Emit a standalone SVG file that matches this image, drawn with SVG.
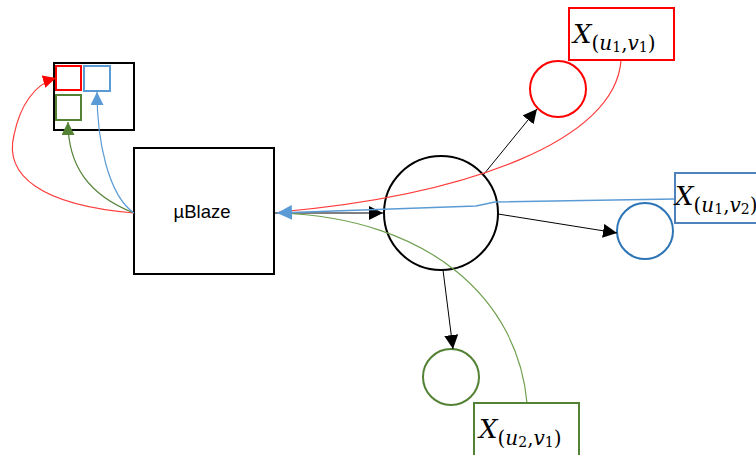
<svg xmlns="http://www.w3.org/2000/svg" width="756" height="455" viewBox="0 0 756 455">
<style>
.box{fill:#fff;stroke:#000;stroke-width:2}
.lbl{font-family:"DejaVu Serif","Liberation Serif",serif;font-size:26px;fill:#000}
.it{font-style:italic}
.sub{font-size:20px}
.dig{font-size:14px}
.blk{stroke:#000;stroke-width:1;fill:none}
</style>
<defs>
<marker id="aBlk" viewBox="0 0 10 10" refX="10" refY="5" markerWidth="14" markerHeight="14" markerUnits="userSpaceOnUse" orient="auto"><path d="M0,0L10,5L0,10z" fill="#000"/></marker>
<marker id="aRed" viewBox="0 0 10 10" refX="10" refY="5" markerWidth="13" markerHeight="13" markerUnits="userSpaceOnUse" orient="auto"><path d="M0,0L10,5L0,10z" fill="#FF0000"/></marker>
<marker id="aGrn" viewBox="0 0 10 10" refX="10" refY="5" markerWidth="13" markerHeight="13" markerUnits="userSpaceOnUse" orient="auto"><path d="M0,0L10,5L0,10z" fill="#548235"/></marker>
<marker id="aBlu" viewBox="0 0 10 10" refX="10" refY="5" markerWidth="13" markerHeight="13" markerUnits="userSpaceOnUse" orient="auto"><path d="M0,0L10,5L0,10z" fill="#5B9BD5"/></marker>
<marker id="aBlu2" viewBox="0 0 10 10" refX="10" refY="5" markerWidth="15" markerHeight="15" markerUnits="userSpaceOnUse" orient="auto"><path d="M0,0L10,5L0,10z" fill="#5B9BD5"/></marker>
</defs>
<g id="memory">
<rect x="54" y="63" width="80" height="67" class="box"/>
<rect x="56" y="66" width="25" height="24" fill="none" stroke="#FF0000" stroke-width="2"/>
<rect x="84" y="66" width="26" height="25" fill="none" stroke="#5B9BD5" stroke-width="2"/>
<rect x="56" y="95" width="25" height="25" fill="none" stroke="#548235" stroke-width="2"/>
</g>
<g id="mublaze">
<rect x="134" y="148" width="140" height="126" class="box"/>
<text x="202" y="218" text-anchor="middle" font-family="Liberation Sans, Arial, sans-serif" font-size="18.5">µBlaze</text>
</g>
<g id="hub"><circle cx="441" cy="213" r="57" fill="none" stroke="#000" stroke-width="2"/></g>
<g id="n-red"><circle cx="558" cy="89" r="28" fill="none" stroke="#FF0000" stroke-width="2"/></g>
<g id="n-blue"><circle cx="645" cy="231" r="28" fill="none" stroke="#2E75B6" stroke-width="2"/></g>
<g id="n-green"><circle cx="451" cy="377" r="28" fill="none" stroke="#548235" stroke-width="2"/></g>
<g id="connectors">
<path d="M274,213 L383,213" class="blk" marker-end="url(#aBlk)"/>
<path d="M484,174 L537,109" class="blk" marker-end="url(#aBlk)"/>
<path d="M498,214 L617,233" class="blk" marker-end="url(#aBlk)"/>
<path d="M443,270 L453,349" class="blk" marker-end="url(#aBlk)"/>
<path d="M621,60 C616,140 470,195 279,212" fill="none" stroke="#FF3B3B" stroke-width="1.2"/>
<path d="M527,403 C518,300 430,218 279,213" fill="none" stroke="#70A050" stroke-width="1.2"/>
<path d="M675,199 L495,202 L476,206 L277,213" fill="none" stroke="#5B9BD5" stroke-width="1.5" marker-end="url(#aBlu2)"/>
<path d="M134,213 C40,205 4,175 14,135 C20,105 35,84 56,78" fill="none" stroke="#FF3B3B" stroke-width="1.2" marker-end="url(#aRed)"/>
<path d="M134,213 C88,195 68,165 68,122" fill="none" stroke="#548235" stroke-width="1.2" marker-end="url(#aGrn)"/>
<path d="M134,213 C108,195 97,140 97,92" fill="none" stroke="#5B9BD5" stroke-width="1.2" marker-end="url(#aBlu)"/>
</g>
<g id="label-red">
<rect x="569" y="8" width="105" height="52" fill="#fff" stroke="#FF0000" stroke-width="2"/>
<text x="573" y="43" class="lbl"><tspan class="it">X</tspan><tspan class="sub" y="50">(</tspan><tspan class="sub it">u</tspan><tspan class="dig" y="52">1</tspan><tspan class="sub" y="50">,</tspan><tspan class="sub it">v</tspan><tspan class="dig" y="52">1</tspan><tspan class="sub" y="50">)</tspan></text>
</g>
<g id="label-blue">
<rect x="675" y="173" width="90" height="50" fill="#fff" stroke="#4F81BD" stroke-width="2"/>
<text x="675" y="205" class="lbl"><tspan class="it">X</tspan><tspan class="sub" y="212">(</tspan><tspan class="sub it">u</tspan><tspan class="dig" y="214">1</tspan><tspan class="sub" y="212">,</tspan><tspan class="sub it">v</tspan><tspan class="dig" y="214">2</tspan><tspan class="sub" y="212">)</tspan></text>
</g>
<g id="label-green">
<rect x="474" y="403" width="105" height="60" fill="#fff" stroke="#548235" stroke-width="2"/>
<text x="479" y="438" class="lbl"><tspan class="it">X</tspan><tspan class="sub" y="445">(</tspan><tspan class="sub it">u</tspan><tspan class="dig" y="447">2</tspan><tspan class="sub" y="445">,</tspan><tspan class="sub it">v</tspan><tspan class="dig" y="447">1</tspan><tspan class="sub" y="445">)</tspan></text>
</g>
</svg>
